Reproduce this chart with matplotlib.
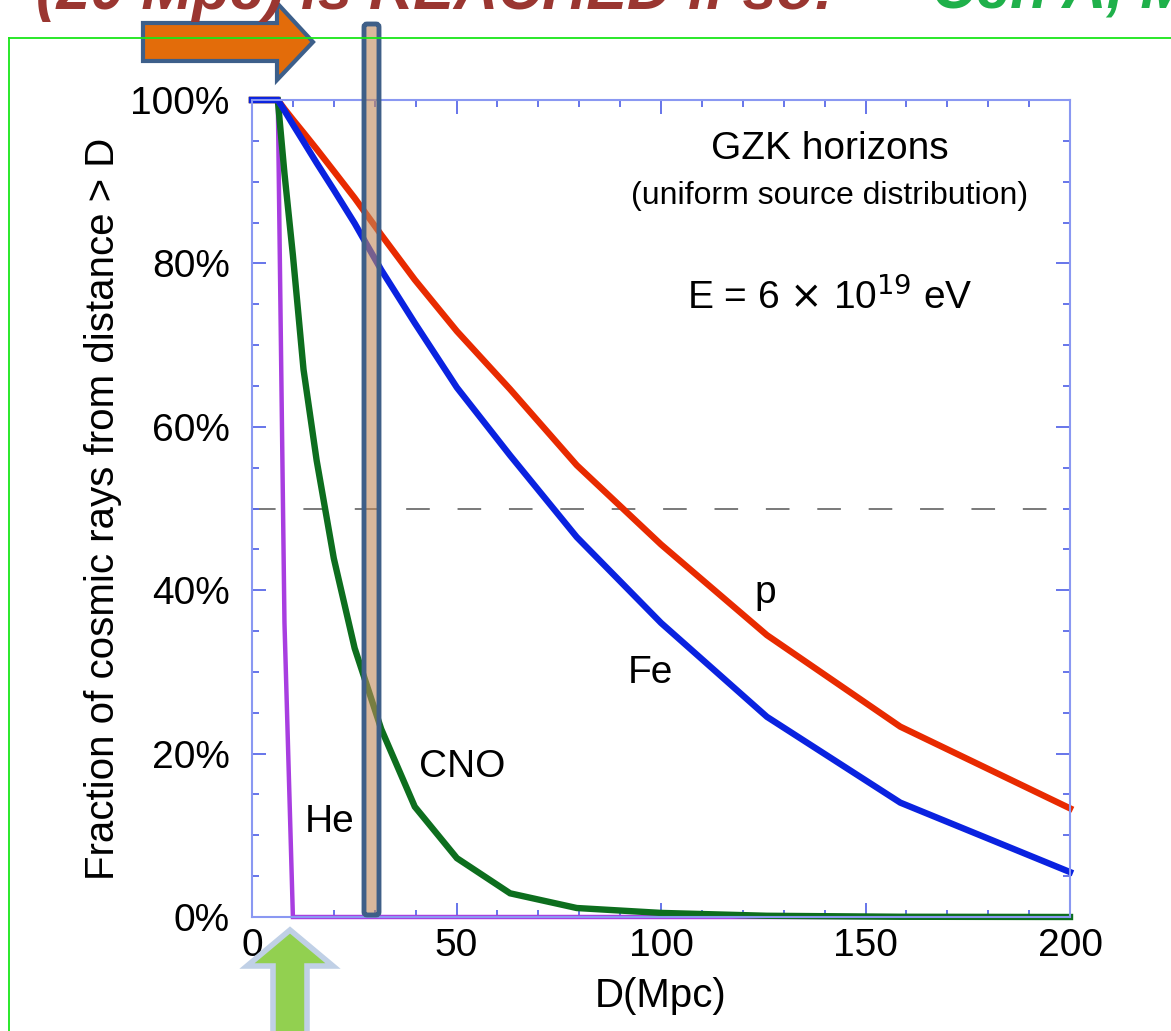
import numpy as np
import matplotlib.pyplot as plt
from matplotlib.patches import Polygon, FancyBboxPatch
from matplotlib.ticker import MultipleLocator, FuncFormatter

plt.rcParams['font.family'] = ['Liberation Sans', 'DejaVu Sans']
plt.rcParams['lines.scale_dashes'] = False

# Data: fraction of cosmic rays (%) coming from distance > D, E = 6e19 eV
D = [0, 6.31, 7.94, 10.0, 12.6, 15.8, 20.0, 25.1, 31.6, 39.8, 50.1, 63.1,
     79.4, 100.0, 125.9, 158.5, 200.0]
frac_p = [100, 100, 98.9, 97.6, 96.0, 94.0, 91.3, 88.0, 83.5, 78.0, 71.7,
          64.6, 55.3, 45.6, 34.5, 23.3, 13.3]
frac_fe = [100, 100, 98.7, 97.0, 94.9, 92.3, 89.0, 84.9, 79.2, 72.7, 64.8,
           56.5, 46.5, 36.0, 24.5, 14.0, 5.5]
frac_cno = [100, 100, 91.0, 81.0, 67.0, 55.9, 43.9, 32.9, 23.0, 13.5, 7.2,
            2.9, 1.1, 0.5, 0.15, 0.03, 0.0]
frac_he = [100, 100, 36.0, 0, 0, 0, 0, 0, 0, 0, 0, 0, 0, 0, 0, 0, 0]

series = [("He", frac_he, "#a83ee0", 3.2),
          ("CNO", frac_cno, "#0d6e1e", 4.6),
          ("p", frac_p, "#e82a00", 4.6),
          ("Fe", frac_fe, "#0a22e0", 4.6)]

fig = plt.figure(figsize=(11.71, 10.31), dpi=100)
ax = fig.add_axes([252 / 1171, 1 - 917 / 1031, 818 / 1171, 817 / 1031])

for name, vals, col, lw in series:
    ax.plot(D, vals, color=col, lw=lw, solid_joinstyle='miter', clip_on=False)

ax.axhline(50, color='#555555', lw=1.1, dashes=(17, 20), zorder=1)

ax.set_xlim(0, 200)
ax.set_ylim(0, 100)
ax.xaxis.set_major_locator(MultipleLocator(50))
ax.xaxis.set_minor_locator(MultipleLocator(10))
ax.yaxis.set_major_locator(MultipleLocator(20))
ax.yaxis.set_minor_locator(MultipleLocator(5))
ax.yaxis.set_major_formatter(FuncFormatter(lambda v, p: f"{v:.0f}%"))
ax.tick_params(which='both', direction='in', top=True, right=True,
               color='#5a6ae8', labelsize=28)
ax.tick_params(which='major', length=10, width=1.3)
ax.tick_params(which='minor', length=5, width=1.3)
ax.tick_params(axis='x', pad=8)
ax.tick_params(axis='y', pad=16)
for s in ax.spines.values():
    s.set_color('#8a98f2')
    s.set_linewidth(1.5)

ax.set_xlabel('D(Mpc)', fontsize=29, labelpad=9)
ax.set_ylabel('Fraction of cosmic rays from distance > D', fontsize=29,
              labelpad=6)

ax.text(141.3, 94.0, 'GZK horizons', fontsize=28, ha='center', va='center')
ax.text(141.3, 88.2, '(uniform source distribution)', fontsize=23,
        ha='center', va='center')
ax.text(141.3, 75.9, r'E = 6 $\times$ 10$^{19}$ eV', fontsize=28,
        ha='center', va='center')
ax.text(125.4, 39.7, 'p', fontsize=28, ha='center', va='center')
ax.text(97.3, 29.9, 'Fe', fontsize=28, ha='center', va='center')
ax.text(51.3, 18.4, 'CNO', fontsize=28, ha='center', va='center')
ax.text(19.1, 11.6, 'He', fontsize=28, ha='center', va='center')

# slide overlay (pixel coordinates)
ov = fig.add_axes([0, 0, 1, 1], zorder=10)
ov.set_xlim(0, 1171)
ov.set_ylim(1031, 0)
ov.axis('off')
ov.patch.set_alpha(0)

ov.plot([9, 1171], [38, 38], color='#19e619', lw=1.3)
ov.plot([9, 9], [38, 1031], color='#19e619', lw=1.3)

# slide title, cut off at the top edge as in the source
ov.text(36, 9, '(20 Mpc) is REACHED if so:', fontsize=44, color='#9a3631',
        style='italic', weight='bold', va='baseline')
ov.text(932, 9, 'Cen A, M82, M87', fontsize=44, color='#1fb04a',
        style='italic', weight='bold', va='baseline')

arrow = Polygon([[143, 23], [277, 23], [277, 3], [313, 42], [277, 80],
                 [277, 61], [143, 61]], closed=True, fc='#e36c0a',
                ec='#3d5f8a', lw=3)
ov.add_patch(arrow)

bar = FancyBboxPatch((364, 24), 15, 891, boxstyle='round,pad=0,rounding_size=3',
                     fc='#c0895a', alpha=0.6, ec='none')
ov.add_patch(bar)
bar_edge = FancyBboxPatch((364, 24), 15, 891,
                          boxstyle='round,pad=0,rounding_size=3',
                          fc='none', ec='#3f5f88', lw=3.5)
ov.add_patch(bar_edge)

up = Polygon([[290, 930], [333, 966], [307, 966], [307, 1040], [273, 1040],
              [273, 966], [247, 966]], closed=True, fc='#92d050',
             ec='#c0d0e6', lw=4)
ov.add_patch(up)

fig.savefig('out.png', dpi=100)
